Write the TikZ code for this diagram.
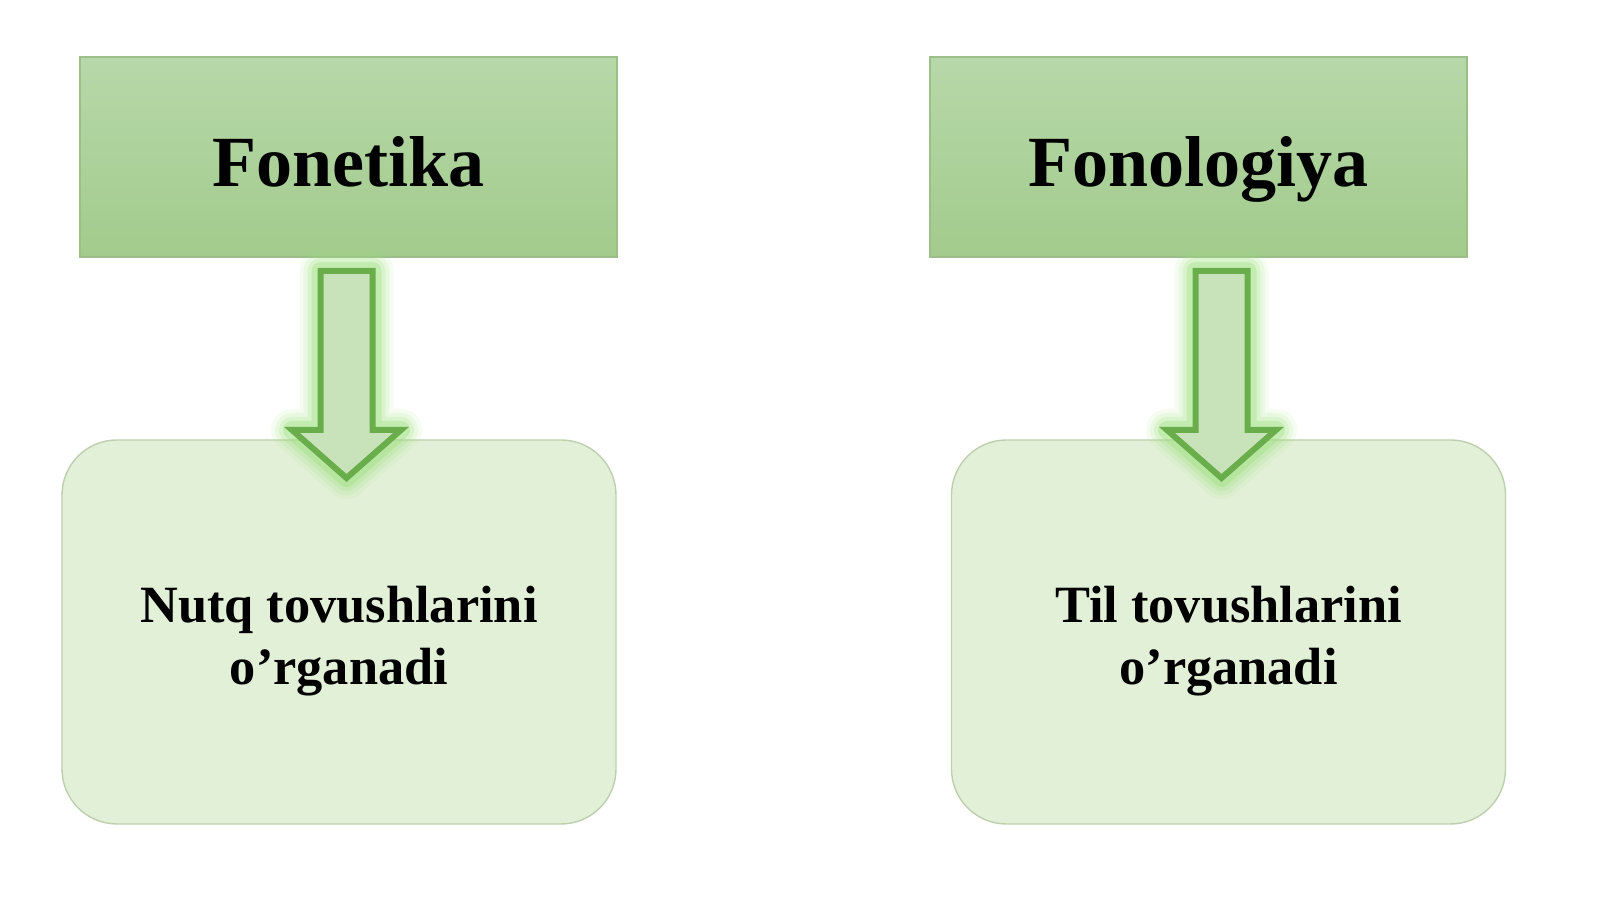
\documentclass[tikz,border=0pt]{standalone}
\usepackage{fontspec}
\setmainfont{Liberation Serif}
\usetikzlibrary{positioning}

\definecolor{headtop}{HTML}{B7D8A9}
\definecolor{headbot}{HTML}{A2CB8C}
\definecolor{headline}{HTML}{9CBF8A}
\definecolor{bodyfill}{HTML}{E3F0D8}
\definecolor{bodyline}{HTML}{BDCFAE}
\definecolor{arrowfill}{HTML}{C8E2BA}
\definecolor{arrowline}{HTML}{6AAE4C}
\definecolor{arrowglow}{HTML}{9BE07A}

\begin{document}
\begin{tikzpicture}[
  headbox/.style={draw=headline, top color=headtop, bottom color=headbot,
    minimum width=5.37cm, minimum height=2cm, inner sep=0pt,
    text height=0.65cm, text depth=0.05cm,
    font=\fontsize{20.5}{24}\selectfont\bfseries},
  bodybox/.style={draw=bodyline, fill=bodyfill, rounded corners=0.55cm,
    minimum width=5.54cm, minimum height=3.84cm, inner sep=0pt,
    font=\fontsize{14.9}{17.6}\selectfont\bfseries},
  blockarrow/.style={draw=arrowline, fill=arrowfill, line width=0.06cm, line join=miter},
  arrowhalo/.style={draw=arrowglow, line join=round}
]

% page size
\useasboundingbox (0,0) rectangle (16,8.99);

% draw top boxes
\node[headbox] (fonetika) at (3.485,7.42) {Fonetika};
\node[headbox] (fonologiya) at (11.985,7.42) {Fonologiya};

% draw bottom boxes
\node[bodybox] (nutq) at (3.39,2.67)
  {\raisebox{-0.22cm}[0pt][0pt]{\begin{tabular}{@{}c@{}}Nutq tovushlarini\\o’rganadi\end{tabular}}};
\node[bodybox] (til) at (12.285,2.67)
  {\raisebox{-0.22cm}[0pt][0pt]{\begin{tabular}{@{}c@{}}Til tovushlarini\\o’rganadi\end{tabular}}};

% arrow tops
\coordinate (fa) at (3.465,6.28);
\coordinate (fb) at (12.215,6.28);

% draw arrows
\foreach \c in {fa,fb}{
  \foreach \w/\o in {0.42/0.10,0.34/0.14,0.26/0.2,0.18/0.35}
    \draw[arrowhalo, line width=\w cm, opacity=\o, shift={(\c)}]
      (-0.26,0) -- (0.26,0) -- (0.26,-1.59) -- (0.545,-1.59) -- (0,-2.07)
      -- (-0.545,-1.59) -- (-0.26,-1.59) -- cycle;
  \draw[blockarrow, shift={(\c)}]
    (-0.26,0) -- (0.26,0) -- (0.26,-1.59) -- (0.545,-1.59) -- (0,-2.07)
    -- (-0.545,-1.59) -- (-0.26,-1.59) -- cycle;
}

\end{tikzpicture}
\end{document}
